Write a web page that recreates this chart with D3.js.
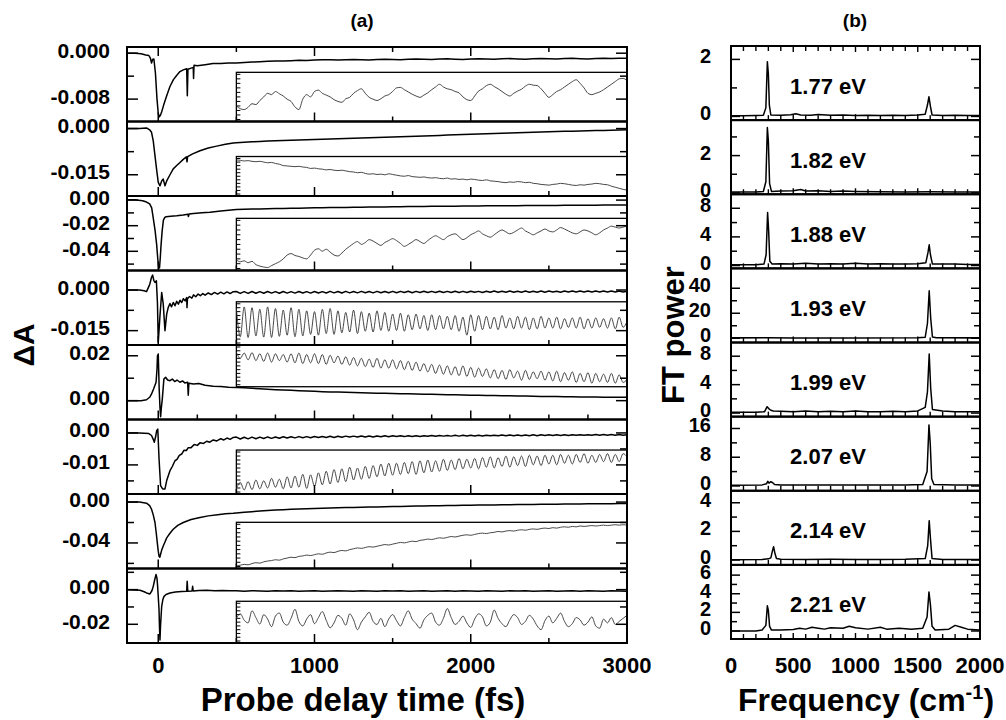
<!DOCTYPE html>
<html>
<head>
<meta charset="utf-8">
<script src="https://cdn.jsdelivr.net/npm/d3@7"></script>
<style>
  body { margin: 0; background: #fff; }
  svg text { font-family: "Liberation Sans", Arial, sans-serif; font-weight: bold; fill: #000; }
</style>
</head>
<body>
<div id="chart"></div>
<script>
// ---------- panel (a): transient absorption, values in units of 1e-3 dA ----------
// early part as [delay fs, dA*1e3]; tail values spread evenly over 500..3000 fs
var early1 = [[-200,0],[-150,0],[-110,-0.1],[-80,-0.3],[-60,-0.4],[-50,-0.9],[-43,-1.7],[-36,-1.1],[-28,-1.0],[-18,-3.5],[-8,-8.0],[0,-10.5],[7,-11.1],[14,-10.8],[22,-10.2],[35,-9.0],[54,-7.4],[75,-5.8],[97,-4.6],[120,-3.8],[139,-3.2],[160,-2.9],[182,-2.7],[186,-7.4],[190,-2.8],[210,-2.6],[224,-2.5],[226,-4.4],[229,-2.1],[250,-2.2],[300,-2.0],[350,-1.8],[400,-1.8],[450,-1.7]];
var tail1 = [-1.70,-1.62,-1.55,-1.50,-1.42,-1.35,-1.38,-1.30,-1.22,-1.28,-1.20,-1.15,-1.12,-1.20,-1.15,-1.08,-1.12,-1.18,-1.10,-1.05,-1.08,-1.14,-1.06,-1.00,-1.05,-1.10,-1.02,-0.98,-1.04,-1.08,-1.00,-0.96,-1.02,-1.06,-0.98,-0.94,-1.00,-1.04,-0.96,-0.92,-0.98,-1.02,-0.94,-0.90,-0.96,-1.00,-0.92,-0.88,-0.94,-0.90,-0.86];
var early2 = [[-200,0],[-120,0],[-75,0.2],[-55,-0.4],[-43,-1.2],[-32,-4.0],[-21,-8.8],[-10,-13.5],[0,-17.5],[11,-18.6],[22,-17.0],[32,-16.4],[43,-18.6],[54,-17.0],[75,-15.0],[96,-13.1],[118,-12.0],[139,-11.0],[160,-10.0],[180,-9.2],[184,-10.8],[188,-9.1],[220,-8.2],[267,-7.2],[320,-6.3],[374,-5.7],[430,-5.1],[480,-4.7]];
var tail2 = [-4.60,-4.45,-4.30,-4.18,-4.05,-3.95,-3.86,-3.78,-3.70,-3.62,-3.55,-3.46,-3.38,-3.30,-3.22,-3.14,-3.06,-2.98,-2.90,-2.82,-2.74,-2.66,-2.58,-2.50,-2.40,-2.32,-2.22,-2.12,-2.02,-1.92,-1.82,-1.74,-1.66,-1.58,-1.50,-1.42,-1.34,-1.26,-1.18,-1.10,-1.02,-0.96,-0.90,-0.84,-0.78,-0.72,-0.66,-0.60,-0.54,-0.48,-0.42];
var early3 = [[-200,0.3],[-150,0.2],[-100,-0.5],[-75,-1.5],[-55,-3.0],[-42,-6.0],[-31,-14.8],[-20,-24],[-10,-35],[-3,-46],[3,-53],[8,-53],[13,-45],[18,-35],[25,-24],[33,-15.6],[42,-13.5],[50,-13.0],[80,-12.6],[118,-12.2],[160,-11.6],[190,-11.0],[193,-12.8],[197,-10.9],[225,-10.5],[280,-9.9],[331,-9.5],[400,-8.5],[450,-7.9]];
var tail3 = [-7.40,-7.20,-7.05,-6.90,-6.78,-6.65,-6.55,-6.45,-6.35,-6.20,-6.05,-5.95,-5.85,-5.78,-5.70,-5.62,-5.55,-5.48,-5.40,-5.32,-5.22,-5.15,-5.08,-5.00,-4.95,-4.90,-4.84,-4.78,-4.72,-4.66,-4.60,-4.55,-4.50,-4.46,-4.42,-4.38,-4.34,-4.30,-4.26,-4.22,-4.18,-4.14,-4.10,-4.06,-4.02,-3.98,-3.95,-3.92,-3.88,-3.84,-3.80];
var early4 = [[-200,0],[-120,0],[-90,-0.3],[-75,-0.6],[-55,2.0],[-43,4.7],[-36,5.5],[-28,3.5],[-21,2.8],[-12,3.4],[-5,-5],[0,-19.3],[6,-14],[11,-9.5],[22,-0.9],[32,-5.2],[43,-15.0],[54,-8.9],[64,-6.4],[75,-5.0],[85,-6.2],[96,-4.6],[107,-5.8],[118,-4.2],[129,-5.2],[139,-3.8],[150,-4.6],[161,-3.2],[172,-4.0],[182,-2.8],[184,-6.5],[187,-3.2],[200,-2.4],[215,-3.0],[226,-1.8],[240,-2.5],[255,-1.5],[270,-2.1],[285,-1.3],[300,-1.9],[320,-1.1],[340,-1.7],[360,-0.9],[380,-1.5],[400,-0.8],[420,-1.4],[440,-0.7],[460,-1.3],[480,-0.6]];
var tail4 = [-0.55,-1.25,-0.6,-1.25,-0.55,-1.2,-0.6,-1.2,-0.55,-1.15,-0.6,-1.2,-0.55,-1.15,-0.6,-1.15,-0.55,-1.1,-0.6,-1.15,
  -0.55,-1.1,-0.6,-1.1,-0.5,-1.05,-0.55,-1.1,-0.5,-1.05,-0.55,-1.05,-0.5,-1.0,-0.55,-1.05,-0.5,-1.0,-0.55,-1.0,
  -0.5,-1.0,-0.5,-0.95,-0.45,-1.0,-0.5,-0.95,-0.45,-0.95,-0.5,-0.9,-0.45,-0.95,-0.5,-0.9,-0.45,-0.9,-0.5,-0.9,
  -0.45,-0.85,-0.5,-0.9,-0.45,-0.85,-0.4,-0.85,-0.45,-0.8,-0.4,-0.85,-0.45,-0.8,-0.4,-0.8,-0.45,-0.8,-0.4,-0.8,
  -0.4,-0.75,-0.45,-0.8,-0.4,-0.75,-0.35,-0.75,-0.4,-0.7,-0.35,-0.75,-0.4,-0.7,-0.35,-0.7,-0.4,-0.7,-0.35,-0.7,-0.5];
var early5 = [[-200,0],[-110,0],[-75,0.4],[-55,1.5],[-43,3.0],[-30,5.2],[-14,8.2],[-8,14],[-5,20],[0,20.8],[6,5.2],[11,-3],[15,-7.2],[20,-3],[26,0.8],[36,9.6],[47,10.4],[60,9.2],[75,8.9],[90,9.6],[105,8.5],[120,9.2],[139,8.2],[155,8.8],[170,7.9],[188,8.2],[192,2.4],[196,7.8],[226,7.4],[260,7.6],[300,6.9],[352,6.4],[400,6.3],[450,6.0]];
var tail5 = [5.9,5.7,5.5,5.3,5.1,4.9,4.75,4.6,4.45,4.3,4.15,4.0,3.9,3.8,3.7,3.6,3.5,3.42,3.35,3.28,3.2,3.12,3.05,2.98,2.9,2.82,2.75,2.68,2.6,2.52,2.45,2.38,2.32,2.26,2.2,2.14,2.08,2.02,1.96,1.9,1.85,1.8,1.75,1.7,1.66,1.62,1.58,1.55,1.52,1.5,1.48];
var early6 = [[-200,0],[-120,0],[-60,-0.2],[-43,-0.8],[-32,-2.0],[-25,-2.9],[-17,-1.2],[-10,0.7],[-3,1.2],[5,-8.1],[15,-16.5],[28,-17.5],[43,-17.5],[54,-14.9],[75,-11.8],[90,-10.5],[107,-8.7],[120,-8.3],[135,-7.0],[150,-6.6],[165,-5.4],[180,-5.5],[192,-4.6],[210,-4.6],[230,-3.6],[250,-3.9],[267,-3.1],[290,-3.3],[310,-2.6],[330,-2.9],[352,-2.2],[375,-2.5],[400,-1.8],[420,-2.2],[440,-1.6],[460,-2.0],[480,-1.4]];
var tail6 = [-1.3,-1.9,-1.35,-1.85,-1.3,-1.8,-1.3,-1.75,-1.25,-1.7,-1.25,-1.65,-1.2,-1.6,-1.2,-1.55,-1.15,-1.5,-1.15,-1.5,
  -1.1,-1.45,-1.1,-1.4,-1.05,-1.4,-1.05,-1.35,-1.0,-1.3,-1.0,-1.3,-0.95,-1.25,-0.95,-1.25,-0.95,-1.2,-0.9,-1.2,
  -0.9,-1.15,-0.9,-1.15,-0.85,-1.1,-0.85,-1.1,-0.85,-1.05,-0.8,-1.05,-0.8,-1.0,-0.8,-1.0,-0.75,-1.0,-0.75,-0.95,
  -0.75,-0.95,-0.7,-0.95,-0.7,-0.9,-0.7,-0.9,-0.65,-0.9,-0.65,-0.85,-0.65,-0.85,-0.65,-0.85,-0.6,-0.85,-0.6,-0.8,
  -0.6,-0.8,-0.6,-0.8,-0.55,-0.8,-0.55,-0.75,-0.55,-0.75,-0.55,-0.75,-0.5,-0.75,-0.5,-0.7,-0.5,-0.7,-0.5,-0.7,-0.6];
var early7 = [[-200,0],[-120,0],[-75,-1.1],[-55,-3.5],[-43,-7],[-32,-12.5],[-21,-20],[-13,-30],[-6,-40],[0,-48],[5,-53],[10,-54],[15,-51],[22,-47],[32,-43],[43,-39],[54,-35],[75,-30.5],[96,-26.6],[125,-22.8],[160,-20],[210,-17],[267,-15],[320,-13.5],[380,-12.3],[430,-11.5],[480,-11.0]];
var tail7 = [-10.6,-9.95,-9.35,-8.8,-8.3,-7.85,-7.45,-7.1,-6.8,-6.55,-6.3,-6.05,-5.8,-5.6,-5.4,-5.2,-5.0,-4.85,-4.7,-4.55,-4.4,-4.25,-4.1,-3.95,-3.8,-3.66,-3.52,-3.4,-3.28,-3.16,-3.05,-2.95,-2.85,-2.75,-2.65,-2.56,-2.48,-2.4,-2.32,-2.24,-2.16,-2.08,-2.0,-1.92,-1.84,-1.76,-1.68,-1.6,-1.52,-1.44,-1.36];
var early8 = [[-200,0],[-117,-0.4],[-90,-1.2],[-75,-1.9],[-53,-2.5],[-40,-0.5],[-32,1.9],[-22,6],[-14,8.7],[-8,6.5],[-4,1.9],[0,-4],[5,-11.6],[8,-22],[11,-29],[15,-20],[22,-9.7],[30,-5.5],[37,-3.9],[50,-2.8],[75,-1.9],[110,-1.4],[150,-1.1],[182,-1.0],[185,4.8],[189,-1.0],[216,-0.8],[220,1.9],[224,-0.8],[260,-0.5],[310,-0.4],[360,-0.6],[410,-0.5],[460,-0.7]];
var tail8 = [-0.7,-0.9,-0.6,-0.8,-1.0,-0.7,-0.8,-0.6,-0.9,-0.8,-0.7,-0.9,-0.8,-0.6,-0.8,-1.0,-0.7,-0.8,-0.9,-0.7,-0.8,-0.6,-0.9,-0.8,-0.7,-1.0,-0.8,-0.7,-0.9,-0.6,-0.8,-0.9,-0.7,-0.8,-1.0,-0.7,-0.8,-0.6,-0.9,-0.8,-0.7,-0.9,-0.8,-0.7,-0.9,-0.6,-0.8,-1.0,-0.7,-0.8,-0.9];

// insets: oscillatory part, arbitrary units (0..100), 500..3000 fs
var inset1 = [30,24,22,27,35,33,42,50,58,55,62,57,52,45,40,28,22,45,55,50,
  62,65,58,54,50,44,40,38,46,49,58,64,68,58,49,45,42,46,52,55,
  62,70,71,66,61,56,52,49,54,59,66,72,78,72,68,66,62,59,50,44,
  42,52,63,68,75,78,73,68,62,56,52,58,63,67,74,78,76,75,68,58,
  49,55,62,66,72,78,84,88,80,70,58,55,58,61,66,72,78,84,90,91,86];
var inset2 = [96,95,93,94,92,91,92,90,88,89,86,84,80,79,78,77,78,76,75,72,
  73,71,70,68,69,67,66,67,65,63,62,60,61,58,56,57,55,56,54,57,
  55,53,51,50,52,49,48,47,48,46,45,46,44,43,45,42,43,41,42,40,
  42,41,39,38,40,37,36,35,33,32,34,33,35,34,32,33,30,29,27,26,
  25,27,28,30,29,27,25,24,26,25,27,28,30,29,27,26,22,19,16,13,11];
var inset3 = [18,14,16,12,15,8,5,3,2,6,10,14,20,28,31,27,25,22,20,28,
  38,41,36,40,34,28,26,32,40,46,52,56,50,54,60,57,52,48,54,58,
  62,58,52,46,50,55,60,56,52,58,64,68,64,60,66,70,72,66,60,64,
  70,74,78,72,68,65,70,76,80,76,72,75,80,84,78,74,70,74,78,82,
  78,76,80,85,82,78,74,72,76,80,78,74,70,74,80,84,88,86,84,86,88];
var inset4 = [88,16,92,14,90,18,86,15,92,14,88,17,84,20,90,16,86,18,82,22,
  80,20,86,24,88,22,82,26,78,28,84,24,80,30,76,28,82,32,78,30,
  74,32,76,30,72,34,74,36,70,32,72,34,70,36,68,34,70,30,66,20,
  72,30,70,34,68,36,66,34,70,38,64,36,68,38,66,34,64,36,68,38,
  64,38,66,36,62,40,64,38,66,36,62,38,64,40,62,38,64,36,66,40,55];
var inset5 = [86,70,84,66,85,64,82,62,84,60,82,64,80,60,82,58,84,56,80,58,
  82,56,80,54,78,58,76,54,74,52,72,50,70,48,68,46,70,44,66,44,
  66,42,64,40,62,38,60,36,56,34,54,30,52,28,50,26,48,24,50,22,
  46,20,44,22,42,18,40,16,38,14,40,18,36,12,38,14,34,16,36,12,
  34,10,36,8,32,12,34,6,30,8,32,4,30,8,28,6,30,4,26,6,14];
var inset6 = [8,24,5,26,6,30,8,28,10,34,12,32,8,38,10,40,12,44,9,43,
  14,48,18,52,20,56,24,58,26,62,30,60,32,64,34,66,38,70,40,72,
  42,72,44,74,46,76,44,78,48,80,50,78,52,82,54,80,56,84,58,82,
  60,84,58,86,62,88,60,86,64,90,62,88,66,90,64,92,68,90,66,92,
  70,92,68,94,72,92,70,94,74,96,72,92,74,94,76,96,74,94,76,96,88];
var inset7 = [1,3,5,4,7,9,8,11,13,14,16,15,18,20,22,21,24,25,27,26,
  28,30,29,32,34,33,36,38,37,40,42,44,43,45,47,46,48,50,52,51,
  53,55,57,56,58,60,59,62,63,65,64,66,68,67,69,71,70,72,74,75,
  74,76,78,79,78,80,81,83,82,84,85,84,86,87,86,88,89,88,90,91,
  90,92,91,93,94,93,95,94,96,95,96,97,96,97,98,97,98,99,98,99,98];
var inset8 = [60,72,55,48,80,62,45,70,58,38,66,74,50,42,60,84,52,40,58,70,
  46,62,78,55,35,48,68,60,42,72,56,30,50,64,76,52,44,60,38,58,
  70,54,40,62,80,58,46,34,56,68,74,50,42,60,86,62,44,52,66,48,
  36,58,72,64,40,50,82,60,46,38,56,70,62,44,52,68,58,40,30,54,
  66,48,60,74,52,38,46,62,56,42,50,64,40,34,58,48,62,44,52,60,68];

var yDomainA = [[-0.0119,0.00108],[-0.0219,0.0023],[-0.055,0.0032],[-0.0203,0.0072],[-0.0084,0.0248],[-0.0191,0.0042],[-0.065,0.0079],[-0.0308,0.0122]];
var yTicksA = [[0,-0.004,-0.008],[0,-0.0075,-0.015],[0,-0.01,-0.02,-0.03,-0.04,-0.05],[0,-0.0075,-0.015],[0.02,0.01,0],[0,-0.005,-0.01,-0.015],[0,-0.02,-0.04,-0.06],[0.01,0,-0.01,-0.02]];
var yLabelsA = [[[0,"0.000"],[-0.008,"-0.008"]],[[0,"0.000"],[-0.015,"-0.015"]],[[0,"0.00"],[-0.02,"-0.02"],[-0.04,"-0.04"]],[[0,"0.000"],[-0.015,"-0.015"]],[[0.02,"0.02"],[0,"0.00"]],[[0,"0.00"],[-0.01,"-0.01"]],[[0,"0.00"],[-0.04,"-0.04"]],[[0,"0.00"],[-0.02,"-0.02"]]];
var xTicksA = [0, 1000, 2000, 3000];

// ---------- panel (b): FT power spectra, [frequency cm-1, power] ----------
var energies = ["1.77 eV","1.82 eV","1.88 eV","1.93 eV","1.99 eV","2.07 eV","2.14 eV","2.21 eV"];
var spec1 = [[0,0.02],[100,0.02],[200,0.03],[260,0.04],[280,0.3],[292,1.92],[300,1.5],[308,0.4],[320,0.05],[400,0.04],[480,0.06],[520,0.09],[560,0.05],[640,0.04],[700,0.07],[800,0.04],[900,0.05],[1000,0.03],[1100,0.04],[1200,0.03],[1300,0.04],[1400,0.03],[1500,0.05],[1560,0.08],[1578,0.4],[1590,0.69],[1602,0.35],[1615,0.05],[1700,0.03],[1800,0.04],[1900,0.03],[2000,0.03]];
var spec2 = [[0,0.05],[200,0.05],[260,0.08],[280,0.6],[292,3.5],[300,2.8],[310,0.5],[325,0.08],[400,0.1],[500,0.12],[560,0.18],[600,0.1],[700,0.12],[800,0.08],[900,0.1],[1000,0.08],[1200,0.06],[1400,0.05],[1600,0.06],[1800,0.05],[2000,0.05]];
var spec3 = [[0,0.1],[200,0.1],[265,0.2],[282,1.5],[294,7.4],[302,5],[312,0.6],[330,0.2],[400,0.25],[500,0.2],[600,0.3],[700,0.2],[800,0.25],[900,0.2],[1000,0.3],[1100,0.2],[1200,0.25],[1300,0.2],[1400,0.2],[1500,0.25],[1565,0.4],[1582,1.8],[1592,2.9],[1602,1.5],[1618,0.2],[1700,0.2],[1800,0.2],[1900,0.15],[2000,0.15]];
var spec4 = [[0,0.3],[300,0.4],[500,0.3],[1000,0.3],[1500,0.4],[1560,0.8],[1578,12],[1592,38],[1604,16],[1618,1],[1650,0.4],[2000,0.3]];
var spec5 = [[0,0.1],[200,0.1],[270,0.2],[290,0.9],[305,0.6],[320,0.4],[340,0.3],[400,0.25],[500,0.2],[600,0.3],[700,0.2],[800,0.25],[900,0.2],[1000,0.3],[1100,0.2],[1200,0.2],[1300,0.25],[1400,0.2],[1500,0.3],[1560,0.8],[1578,3],[1592,8.3],[1604,3.5],[1618,0.5],[1700,0.3],[1800,0.2],[2000,0.2]];
var spec6 = [[0,0.2],[250,0.3],[285,0.6],[295,1.3],[305,0.8],[320,1.2],[335,0.9],[350,0.4],[400,0.3],[600,0.3],[800,0.3],[1000,0.3],[1200,0.3],[1400,0.3],[1540,0.4],[1575,4],[1590,17],[1600,12],[1612,2],[1630,0.4],[1800,0.3],[2000,0.3]];
var spec7 = [[0,0.02],[250,0.03],[300,0.08],[320,0.15],[332,0.6],[342,0.93],[352,0.5],[365,0.1],[400,0.05],[600,0.04],[800,0.05],[1000,0.04],[1200,0.04],[1400,0.05],[1560,0.1],[1580,1.0],[1592,2.75],[1602,1.5],[1615,0.1],[1700,0.04],[2000,0.03]];
var spec8 = [[0,0],[200,0],[250,0.1],[280,0.6],[292,2.7],[300,2.2],[310,0.5],[325,0.1],[400,0.1],[500,0.15],[550,0.3],[600,0.2],[650,0.4],[700,0.3],[750,0.2],[800,0.35],[900,0.3],[950,0.5],[1000,0.35],[1100,0.2],[1200,0.4],[1250,0.2],[1350,0.3],[1450,0.2],[1540,0.3],[1575,1.5],[1590,4.2],[1602,2.8],[1615,0.5],[1640,0.1],[1750,0.2],[1800,0.6],[1850,0.4],[1900,0.2],[2000,0.1]];

var yDomainB = [[-0.13,2.47],[-0.07,3.9],[-0.4,9.96],[-3.4,55.9],[-0.5,9.93],[-1.33,19.3],[-0.34,4.84],[-0.86,7.1]];
var yTicksB = [[0,1,2],[0,1,2,3],[0,2,4,6,8],[0,10,20,30,40],[0,2,4,6,8],[0,4,8,12,16],[0,1,2,3,4],[0,1,2,3,4,5,6]];
var yLabelsB = [[0,2],[0,2],[0,4,8],[0,20,40],[0,4,8],[0,8,16],[0,2,4],[0,2,4,6]];
var xTicksB = [0, 500, 1000, 1500, 2000];

// ---------- layout ----------
var A = { left: 127, right: 627, top: 47, bottom: 643 };
var B = { left: 731, right: 980, top: 46, bottom: 639 };
var insetBand = [[0.34,1],[0.47,1],[0.30,1],[0.42,1],[0,0.56],[0.41,1],[0.38,1],[0.44,1]];

var svg = d3.select("#chart").append("svg").attr("width", 1006).attr("height", 720);
svg.append("rect").attr("width", 1006).attr("height", 720).attr("fill", "#fff");

var rowsA = [
  { early: early1, tail: tail1, inset: inset1 },
  { early: early2, tail: tail2, inset: inset2 },
  { early: early3, tail: tail3, inset: inset3 },
  { early: early4, tail: tail4, inset: inset4 },
  { early: early5, tail: tail5, inset: inset5 },
  { early: early6, tail: tail6, inset: inset6 },
  { early: early7, tail: tail7, inset: inset7 },
  { early: early8, tail: tail8, inset: inset8 }
];
var specs = [spec1, spec2, spec3, spec4, spec5, spec6, spec7, spec8];

function spread(vals, t0, t1) {
  return vals.map(function (v, i) {
    return [t0 + (i * (t1 - t0)) / (vals.length - 1), v];
  });
}

createPanelA();
createPanelB();

function createPanelA() {
  var x = d3.scaleLinear().domain([-200, 3000]).range([A.left, A.right]);
  var rowH = (A.bottom - A.top) / 8;
  var g = svg.append("g");

  rowsA.forEach(function (r, i) {
    var top = A.top + i * rowH,
      bot = top + rowH;
    var y = d3.scaleLinear().domain(yDomainA[i]).range([bot, top]);

    g.append("clipPath").attr("id", "clipA" + i)
      .append("rect").attr("x", A.left).attr("y", top).attr("width", A.right - A.left).attr("height", rowH);
    var row = g.append("g").attr("clip-path", "url(#clipA" + i + ")");

    // inset box
    var iTop = top + insetBand[i][0] * rowH,
      iBot = top + insetBand[i][1] * rowH;
    var yi = d3.scaleLinear().domain([0, 100]).range([iBot - 2, iTop + 2]);
    row.append("rect")
      .attr("x", x(500)).attr("y", iTop)
      .attr("width", A.right - x(500)).attr("height", iBot - iTop)
      .attr("fill", "none").attr("stroke", "#000").attr("stroke-width", 1.3);
    row.selectAll(".itick").data(d3.range(0, 101, 10)).enter().append("line")
      .attr("x1", x(500)).attr("x2", x(500) + 4)
      .attr("y1", function (d) { return yi(d); })
      .attr("y2", function (d) { return yi(d); })
      .attr("stroke", "#000").attr("stroke-width", 1);
    row.append("path")
      .datum(spread(r.inset, 500, 3000))
      .attr("fill", "none").attr("stroke", "#333").attr("stroke-width", 0.9)
      .attr("d", d3.line().curve(d3.curveMonotoneX)
        .x(function (d) { return x(d[0]); }).y(function (d) { return yi(d[1]); }));

    // main trace
    var main = r.early.concat(spread(r.tail, 500, 3000));
    row.append("path")
      .datum(main)
      .attr("fill", "none").attr("stroke", "#000").attr("stroke-width", 1.5)
      .attr("stroke-linejoin", "round")
      .attr("d", d3.line().x(function (d) { return x(d[0]); }).y(function (d) { return y(d[1] * 1e-3); }));

    // y ticks left & right
    var majors = yLabelsA[i].map(function (d) { return d[0]; });
    yTicksA[i].forEach(function (t) {
      var len = majors.indexOf(t) >= 0 ? 11 : 7;
      g.append("line").attr("x1", A.left).attr("x2", A.left + len)
        .attr("y1", y(t)).attr("y2", y(t)).attr("stroke", "#000").attr("stroke-width", 1.5);
      g.append("line").attr("x1", A.right).attr("x2", A.right - len)
        .attr("y1", y(t)).attr("y2", y(t)).attr("stroke", "#000").attr("stroke-width", 1.5);
    });
    g.selectAll(".ylab" + i).data(yLabelsA[i]).enter().append("text")
      .attr("x", 110).attr("y", function (d) { return y(d[0]) - 3; })
      .attr("text-anchor", "end").attr("dominant-baseline", "central")
      .style("font-size", "21px")
      .text(function (d) { return d[1]; });

    // x ticks at the bottom of each row (and top of the panel)
    var step = i === 4 ? 250 : 500;
    d3.range(0, 3000, step).forEach(function (t) {
      var len = t % 1000 === 0 ? 9 : 5;
      g.append("line").attr("x1", x(t)).attr("x2", x(t))
        .attr("y1", bot).attr("y2", bot - len).attr("stroke", "#000").attr("stroke-width", 1.5);
      if (i === 0) {
        g.append("line").attr("x1", x(t)).attr("x2", x(t))
          .attr("y1", top).attr("y2", top + len).attr("stroke", "#000").attr("stroke-width", 1.5);
      }
    });

    g.append("rect").attr("x", A.left).attr("y", top)
      .attr("width", A.right - A.left).attr("height", rowH)
      .attr("fill", "none").attr("stroke", "#000").attr("stroke-width", 2);
  });

  g.selectAll(".xlab").data(xTicksA).enter().append("text")
    .attr("x", function (d) { return x(d); }).attr("y", 665)
    .attr("text-anchor", "middle").attr("dominant-baseline", "central")
    .style("font-size", "22px")
    .text(function (d) { return d; });

  g.append("text").attr("x", 363).attr("y", 711)
    .attr("text-anchor", "middle").style("font-size", "33px")
    .text("Probe delay time (fs)");
  g.append("text")
    .attr("transform", "translate(34,345) rotate(-90)")
    .attr("text-anchor", "middle").style("font-size", "30px")
    .text("\u0394A");
  g.append("text").attr("x", 362).attr("y", 20)
    .attr("text-anchor", "middle").attr("dominant-baseline", "central")
    .style("font-size", "19px").text("(a)");
}

function createPanelB() {
  var x = d3.scaleLinear().domain([0, 2000]).range([B.left, B.right]);
  var rowH = (B.bottom - B.top) / 8;
  var g = svg.append("g");

  specs.forEach(function (s, i) {
    var top = B.top + i * rowH,
      bot = top + rowH;
    var y = d3.scaleLinear().domain(yDomainB[i]).range([bot, top]);

    g.append("clipPath").attr("id", "clipB" + i)
      .append("rect").attr("x", B.left).attr("y", top).attr("width", B.right - B.left).attr("height", rowH);
    g.append("g").attr("clip-path", "url(#clipB" + i + ")")
      .append("path").datum(s)
      .attr("fill", "none").attr("stroke", "#000").attr("stroke-width", 1.5)
      .attr("stroke-linejoin", "round")
      .attr("d", d3.line().x(function (d) { return x(d[0]); }).y(function (d) { return y(d[1]); }));

    yTicksB[i].forEach(function (t) {
      var len = yLabelsB[i].indexOf(t) >= 0 ? 9 : 6;
      g.append("line").attr("x1", B.left).attr("x2", B.left + len)
        .attr("y1", y(t)).attr("y2", y(t)).attr("stroke", "#000").attr("stroke-width", 1.5);
      g.append("line").attr("x1", B.right).attr("x2", B.right - len)
        .attr("y1", y(t)).attr("y2", y(t)).attr("stroke", "#000").attr("stroke-width", 1.5);
    });
    g.selectAll(".ylabB" + i).data(yLabelsB[i]).enter().append("text")
      .attr("x", 711).attr("y", function (d) { return y(d) - 3; })
      .attr("text-anchor", "end").attr("dominant-baseline", "central")
      .style("font-size", "20px")
      .text(function (d) { return d; });

    d3.range(100, 2000, 100).forEach(function (t) {
      var len = t % 500 === 0 ? 6 : 5;
      g.append("line").attr("x1", x(t)).attr("x2", x(t))
        .attr("y1", bot).attr("y2", bot - len).attr("stroke", "#000").attr("stroke-width", 1.4);
      if (i === 0) {
        g.append("line").attr("x1", x(t)).attr("x2", x(t))
          .attr("y1", top).attr("y2", top + len).attr("stroke", "#000").attr("stroke-width", 1.4);
      }
    });

    g.append("text").attr("x", 828).attr("y", top + 40)
      .attr("text-anchor", "middle").attr("dominant-baseline", "central")
      .style("font-size", "22px").text(energies[i]);

    g.append("rect").attr("x", B.left).attr("y", top)
      .attr("width", B.right - B.left).attr("height", rowH)
      .attr("fill", "none").attr("stroke", "#000").attr("stroke-width", 2);
  });

  g.selectAll(".xlabB").data(xTicksB).enter().append("text")
    .attr("x", function (d) { return x(d); }).attr("y", 665)
    .attr("text-anchor", "middle").attr("dominant-baseline", "central")
    .style("font-size", "22px")
    .text(function (d) { return d; });

  var title = g.append("text").attr("x", 866).attr("y", 711)
    .attr("text-anchor", "middle").style("font-size", "32px");
  title.append("tspan").text("Frequency (cm");
  title.append("tspan").attr("dy", -12).style("font-size", "20px").text("-1");
  title.append("tspan").attr("dy", 12).text(")");

  g.append("text")
    .attr("transform", "translate(684,335) rotate(-90)")
    .attr("text-anchor", "middle").style("font-size", "31px")
    .text("FT power");
  g.append("text").attr("x", 855).attr("y", 20)
    .attr("text-anchor", "middle").attr("dominant-baseline", "central")
    .style("font-size", "19px").text("(b)");
}
</script>
</body>
</html>
